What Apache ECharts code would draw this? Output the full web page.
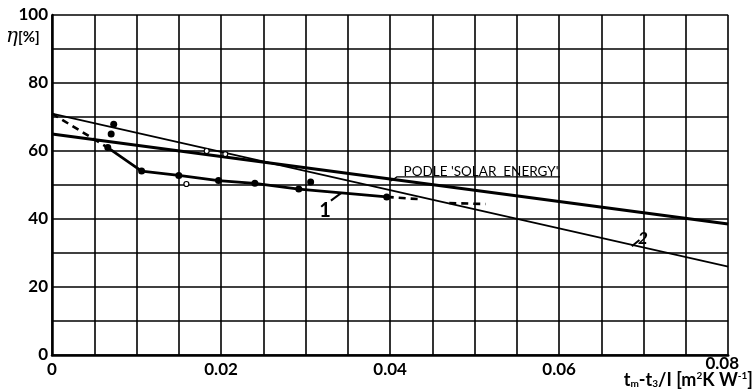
<!DOCTYPE html>
<html>
<head>
<meta charset="utf-8">
<script src="https://cdn.jsdelivr.net/npm/echarts@6/dist/echarts.min.js"></script>
<style>
  html, body { margin: 0; padding: 0; background: #fff; }
  #chart { width: 754px; height: 390px; }
</style>
</head>
<body>
<div id="chart"></div>
<script>
    // 'Solar Energy' reference line
    var solarLine = [[0, 65], [0.08, 38.5]];
    // curve 2 (thin straight line)
    var curve2 = [[0, 71], [0.08, 26]];
    // curve 1: measured points joined by a thick line
    var curve1Solid = [[0.0066, 61], [0.0106, 54.1], [0.015, 52.8], [0.0197, 51.3], [0.024, 50.5], [0.0292, 48.8], [0.0396, 46.5]];
    var curve1DashStart = [[0, 71], [0.0066, 61]];
    var curve1DashEnd1 = [[0.0396, 46.5], [0.0436, 45.8]];
    var curve1DashEnd2 = [[0.047, 44.7], [0.0513, 44.4]];
    // loose measured points
    var extraDots = [[0.0073, 67.9], [0.007, 65], [0.0306, 50.9]];
    var openDots = [[0.0159, 50.3], [0.0183, 60], [0.0205, 59.1]];

    var xTicks = [0, 0.02, 0.04, 0.06, 0.08];
    var yTicks = [0, 20, 40, 60, 80, 100];

    var font = 'Lato';
    var ink = '#000';

    function isTick(list, v) {
        for (var i = 0; i < list.length; i++) {
            if (Math.abs(list[i] - v) < 1e-9) return true;
        }
        return false;
    }

    function lineSeries(data, width, dashed) {
        return {
            type: 'line',
            data: data,
            symbol: 'none',
            silent: true,
            lineStyle: { color: ink, width: width, type: dashed ? [7, 5] : 'solid' },
            z: 3
        };
    }

    var chart = echarts.init(document.getElementById('chart'));
    var option = {
        animation: false,
        grid: { left: 52, right: 19, top: 15, bottom: 35 },
        xAxis: {
            type: 'value',
            min: 0,
            max: 0.08,
            interval: 0.005,
            axisLine: { show: true, onZero: false, lineStyle: { color: ink, width: 2.5 } },
            axisTick: { show: false },
            splitLine: { show: true, lineStyle: { color: ink, width: 1.6 } },
            axisLabel: {
                margin: 6,
                color: ink,
                fontFamily: font,
                fontWeight: 'bold',
                fontSize: 17,
                showMaxLabel: true,
                formatter: function (v) {
                    if (!isTick(xTicks, v)) return '';
                    if (v === 0.08) return '{last|0.08}';
                    return v === 0 ? '0' : v.toFixed(2);
                },
                rich: {
                    last: { fontFamily: font, fontWeight: 'bold', fontSize: 17, color: ink, lineHeight: 6, padding: [0, 12, 0, 0] }
                }
            }
        },
        yAxis: {
            type: 'value',
            min: 0,
            max: 100,
            interval: 10,
            axisLine: { show: true, onZero: false, lineStyle: { color: ink, width: 2.5 } },
            axisTick: { show: false },
            splitLine: { show: true, lineStyle: { color: ink, width: 1.6 } },
            axisLabel: {
                margin: 4,
                color: ink,
                fontFamily: font,
                fontWeight: 'bold',
                fontSize: 17,
                formatter: function (v) {
                    return isTick(yTicks, v) ? String(v) : '';
                }
            }
        },
        series: [
            lineSeries(solarLine, 3, false),
            lineSeries(curve2, 1.6, false),
            lineSeries(curve1DashStart, 2.6, true),
            lineSeries(curve1DashEnd1, 2.6, true),
            lineSeries(curve1DashEnd2, 2.6, true),
            {
                type: 'line',
                data: curve1Solid,
                symbol: 'circle',
                symbolSize: 7,
                itemStyle: { color: ink },
                lineStyle: { color: ink, width: 2.8 },
                z: 4
            },
            {
                type: 'scatter',
                data: extraDots,
                symbol: 'circle',
                symbolSize: 7,
                itemStyle: { color: ink, opacity: 1 },
                z: 4
            },
            {
                type: 'scatter',
                data: openDots,
                symbol: 'circle',
                symbolSize: 5,
                itemStyle: { color: '#fff', borderColor: ink, borderWidth: 1.2, opacity: 1 },
                z: 4
            }
        ]
    };
    chart.setOption(option);

    // annotations placed in data coordinates
    function px(p) { return chart.convertToPixel({ gridIndex: 0 }, p); }
    var labelOne = px([0.0323, 42.6]);
    var oneA = px([0.033, 45.4]), oneB = px([0.0342, 47.6]);
    var labelTwo = px([0.0699, 34.4]);
    var twoA = px([0.0686, 32]), twoB = px([0.0695, 33.8]);
    var podle = px([0.0416, 54.0]);
    var ulA = px([0.0408, 52.4]), ulB = px([0.0601, 52.4]);
    var leadA = px([0.0401, 51.2]);

    chart.setOption({
        graphic: [
            {
                type: 'text', left: 6, top: 27,
                style: {
                    text: '{eta|η}{b|[%]}',
                    rich: {
                        eta: { fontFamily: 'DejaVu Serif', fontSize: 20, fontStyle: 'italic', fill: ink },
                        b: { fontFamily: font, fontWeight: 'bold', fontSize: 15, fill: ink }
                    }
                }
            },
            {
                type: 'text', right: 1, bottom: 1,
                style: {
                    text: 't{s|m}-t{s|3}/I [m{p|2}K W{p|-1}]',
                    fontFamily: font, fontWeight: 'bold', fontSize: 18, fill: ink,
                    rich: {
                        s: { fontFamily: font, fontWeight: 'bold', fontSize: 10, padding: [8, 0, 0, 0], fill: ink },
                        p: { fontFamily: font, fontWeight: 'bold', fontSize: 10, padding: [0, 0, 8, 0], fill: ink }
                    }
                }
            },
            {
                type: 'text', x: labelOne[0], y: labelOne[1],
                style: { text: '1', fontFamily: font, fontWeight: 'bold', fontSize: 20, fill: ink, align: 'center', verticalAlign: 'middle' }
            },
            {
                type: 'line', shape: { x1: oneA[0], y1: oneA[1], x2: oneB[0], y2: oneB[1] },
                style: { stroke: ink, lineWidth: 2 }
            },
            {
                type: 'text', x: labelTwo[0], y: labelTwo[1],
                style: { text: '2', fontFamily: font, fontWeight: 'bold', fontStyle: 'italic', fontSize: 17, fill: ink, align: 'center', verticalAlign: 'middle' }
            },
            {
                type: 'line', shape: { x1: twoA[0], y1: twoA[1], x2: twoB[0], y2: twoB[1] },
                style: { stroke: ink, lineWidth: 2 }
            },
            {
                type: 'text', x: podle[0], y: podle[1],
                style: { text: "PODLE 'SOLAR  ENERGY'", fontFamily: font, fontSize: 13.5, fill: ink, verticalAlign: 'middle' }
            },
            {
                type: 'polyline', shape: { points: [leadA, ulA, ulB] },
                style: { stroke: ink, lineWidth: 1.3, fill: null }
            }
        ]
    });
</script>
</body>
</html>
